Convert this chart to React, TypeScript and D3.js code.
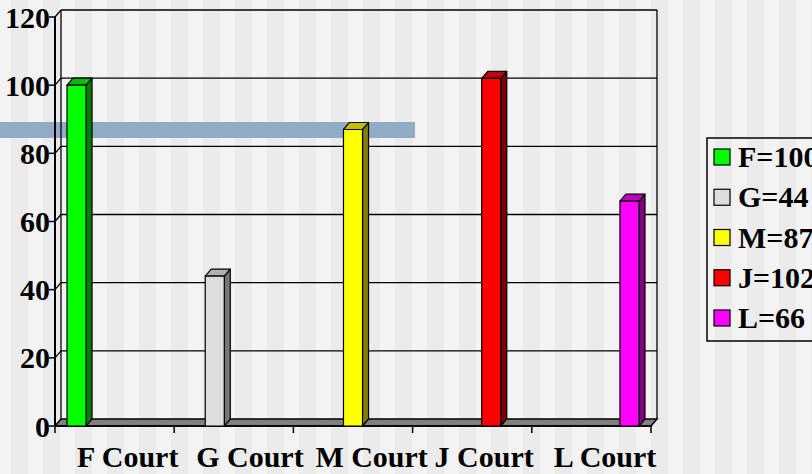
import React from 'react';
import * as d3 from 'd3';

const categories = ['F Court', 'G Court', 'M Court', 'J Court', 'L Court'];
const seriesNames = ['F=100', 'G=44', 'M=87', 'J=102', 'L=66'];
const seriesValues = [100, 44, 87, 102, 66];
const frontColors = ['#00ff00', '#dddddd', '#ffff00', '#ff0000', '#ff00ff'];
const sideColors = ['#008000', '#777777', '#808000', '#800000', '#800080'];
const topColors = ['#00c000', '#b0b0b0', '#c0c000', '#c00000', '#c000c0'];
const yTicks = [0, 20, 40, 60, 80, 100, 120];

const W = 812;
const H = 474;
const DX = 6;
const DY = 7;
const FONT = '"Liberation Serif", "Times New Roman", serif';
const FS = 30;

export default function App() {
  const x = d3.scaleBand<string>().domain(categories).range([55, 651]).paddingInner(0).paddingOuter(0);
  const bw = x.bandwidth();
  const xSub = d3.scaleBand<string>().domain(seriesNames).range([0, bw]).paddingInner(0).paddingOuter(0.63);
  const y = d3.scaleLinear().domain([0, 120]).range([426, 17]);
  const x0 = x.range()[0];
  const x1 = x.range()[1];
  const stripes = d3.range(-1, Math.ceil(W / 32) + 1).map((k) => k * 32 + 11);

  return (
    <svg width={W} height={H} style={{ position: 'absolute', left: 0, top: 0 }}>
      <rect x={0} y={0} width={W} height={H} fill="#f3f3f3" />
      {stripes.map((s) => (
        <rect key={s} x={s} y={0} width={17} height={H} fill="#ebebeb" />
      ))}
      <rect x={0} y={122} width={415} height={16} fill="#93acc6" />

      {/* floor */}
      <polygon
        points={`${x0},${y(0)} ${x1},${y(0)} ${x1 + DX},${y(0) - DY} ${x0 + DX},${y(0) - DY}`}
        fill="#808080"
        stroke="#000"
        strokeWidth={1.5}
      />
      {/* back wall gridlines and side wall segments */}
      {yTicks.filter((t) => t > 0).map((t) => (
        <g key={t}>
          <line x1={x0 + DX} x2={x1 + DX} y1={y(t) - DY} y2={y(t) - DY} stroke="#000" strokeWidth={1.3} />
          <line x1={x0} x2={x0 + DX} y1={y(t)} y2={y(t) - DY} stroke="#000" strokeWidth={1.3} />
        </g>
      ))}
      <line x1={x0 + DX} x2={x0 + DX} y1={y(120) - DY} y2={y(0) - DY} stroke="#000" strokeWidth={1.3} />
      <line x1={x1 + DX} x2={x1 + DX} y1={y(120) - DY} y2={y(0) - DY} stroke="#000" strokeWidth={1.3} />

      {/* front y axis */}
      <line x1={x0} x2={x0} y1={y(120)} y2={y(0)} stroke="#000" strokeWidth={2} />
      {yTicks.map((t) => (
        <g key={t}>
          <line x1={x0 - 6} x2={x0} y1={y(t)} y2={y(t)} stroke="#000" strokeWidth={1.5} />
          <text
            x={x0 - 5}
            y={y(t)}
            textAnchor="end"
            dominantBaseline="central"
            fontFamily={FONT}
            fontWeight="bold"
            fontSize={FS}
            fill="#000"
          >
            {t}
          </text>
        </g>
      ))}
      {/* x axis ticks */}
      <line x1={x0} x2={x1} y1={y(0)} y2={y(0)} stroke="#000" strokeWidth={1.5} />
      {[...categories.map((c) => x(c) as number), x1].map((px, i) => (
        <line key={i} x1={px} x2={px} y1={y(0)} y2={y(0) + 7} stroke="#000" strokeWidth={1.5} />
      ))}

      {/* bars */}
      {seriesValues.map((v, i) => {
        const bx0 = (x(categories[i]) as number) + (xSub(seriesNames[i]) as number);
        const bx1 = bx0 + xSub.bandwidth();
        const yt = y(v);
        const yb = y(0);
        return (
          <g key={seriesNames[i]} stroke="#000" strokeWidth={1.2} strokeLinejoin="round">
            <polygon
              points={`${bx1},${yt} ${bx1 + DX},${yt - DY} ${bx1 + DX},${yb - DY} ${bx1},${yb}`}
              fill={sideColors[i]}
            />
            <polygon
              points={`${bx0},${yt} ${bx0 + DX},${yt - DY} ${bx1 + DX},${yt - DY} ${bx1},${yt}`}
              fill={topColors[i]}
            />
            <rect x={bx0} y={yt} width={bx1 - bx0} height={yb - yt} fill={frontColors[i]} />
          </g>
        );
      })}

      {/* category labels */}
      {categories.map((c) => (
        <text
          key={c}
          x={(x(c) as number) + 22}
          y={467}
          textAnchor="start"
          fontFamily={FONT}
          fontWeight="bold"
          fontSize={FS}
          fill="#000"
        >
          {c}
        </text>
      ))}

      {/* legend */}
      <rect x={707} y={138} width={130} height={203} fill="none" stroke="#000" strokeWidth={1.5} />
      {seriesNames.map((s, i) => {
        const base = 167 + i * 40.25;
        return (
          <g key={s}>
            <rect x={714} y={base - 18} width={16} height={16} fill={frontColors[i]} stroke="#000" strokeWidth={1.2} />
            <text x={738} y={base} fontFamily={FONT} fontWeight="bold" fontSize={FS} fill="#000">
              {s}
            </text>
          </g>
        );
      })}
    </svg>
  );
}
